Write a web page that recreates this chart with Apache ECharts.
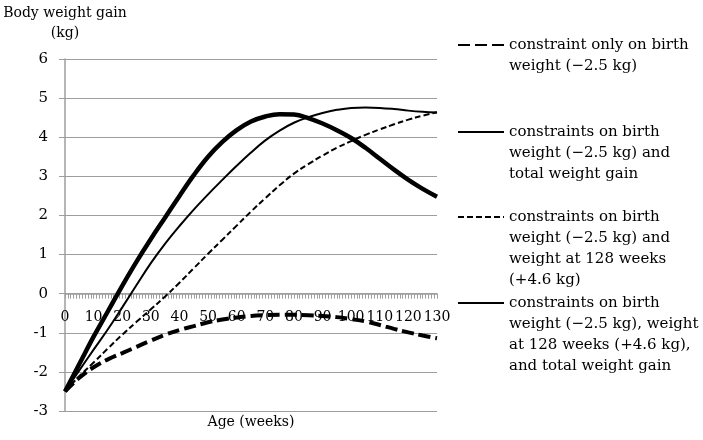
<!DOCTYPE html>
<html>
<head>
<meta charset="utf-8">
<script src="https://cdn.jsdelivr.net/npm/echarts@6/dist/echarts.min.js"></script>
<style>
html,body{margin:0;padding:0;background:#fff;}
#chart{width:703px;height:440px;}
</style>
</head>
<body>
<div id="chart"></div>
<script>
var weeks = [0,5,10,15,20,25,30,35,40,45,50,55,60,65,70,75,80,85,90,95,100,105,110,115,120,125,130];
var birthOnly = [-2.5,-2.15,-1.88,-1.68,-1.52,-1.36,-1.2,-1.05,-0.93,-0.83,-0.73,-0.66,-0.61,-0.57,-0.55,-0.54,-0.54,-0.55,-0.57,-0.6,-0.65,-0.71,-0.8,-0.9,-0.99,-1.07,-1.14];
var birthTotal = [-2.5,-1.8,-1.1,-0.45,0.2,0.82,1.4,1.95,2.5,3.03,3.5,3.88,4.18,4.4,4.53,4.59,4.58,4.49,4.35,4.18,3.98,3.73,3.45,3.17,2.91,2.68,2.48];
var birth128 = [-2.5,-2.11,-1.76,-1.4,-1.05,-0.72,-0.4,-0.07,0.28,0.65,1.02,1.38,1.74,2.1,2.44,2.77,3.07,3.31,3.53,3.73,3.9,4.06,4.2,4.33,4.45,4.55,4.64];
var birth128Total = [-2.5,-1.96,-1.43,-0.91,-0.35,0.22,0.78,1.28,1.73,2.15,2.54,2.91,3.27,3.61,3.92,4.17,4.37,4.51,4.62,4.7,4.75,4.76,4.75,4.72,4.68,4.65,4.63];
var seriesNames = [
  "constraint only on birth\nweight (\u22122.5 kg)",
  "constraints on birth\nweight (\u22122.5 kg) and\ntotal weight gain",
  "constraints on birth\nweight (\u22122.5 kg) and\nweight at 128 weeks\n(+4.6 kg)",
  "constraints on birth\nweight (\u22122.5 kg), weight\nat 128 weeks (+4.6 kg),\nand total weight gain"
];
var yTitle = "Body weight gain\n(kg)";
var xTitle = "Age (weeks)";

var FONT = "DejaVu Serif";
function pairs(vals){ return weeks.map(function(w,i){ return [w, vals[i]]; }); }
var styles = [
  {width:4, type:[12,5]},
  {width:4.5, type:'solid'},
  {width:2, type:[6,3]},
  {width:2, type:'solid'}
];
var allVals = [birthOnly, birthTotal, birth128, birth128Total];
var series = allVals.map(function(v,i){
  return {
    name: seriesNames[i], type:'line', data: pairs(v), smooth: 0.4,
    symbol:'none', lineStyle:{color:'#000', width:styles[i].width, type:styles[i].type},
    itemStyle:{color:'#000'}
  };
});
var LH = 21;
var iconY = [45, 132, 217, 303];
var legends = seriesNames.map(function(n,i){
  var k = n.split("\n").length;
  var pre = "";
  for (var j = 1; j < k; j++) pre += "\n";
  return {
    data:[{name:n}], orient:'vertical', left:457, top: iconY[i] - (2*k-1)*LH/2,
    padding:0, itemWidth:46, itemHeight:14, itemGap:0, selectedMode:false,
    itemStyle:{opacity:0},
    formatter:function(name){ return pre + name; },
    textStyle:{fontFamily:FONT, fontSize:15, lineHeight:LH, color:'#000'}
  };
});
var chart = echarts.init(document.getElementById('chart'));
chart.setOption({
  animation:false,
  backgroundColor:'#fff',
  grid:{left:65, right:266, top:59, bottom:29, containLabel:false, outerBoundsMode:'none'},
  legend: legends,
  xAxis:{
    type:'value', min:0, max:130, interval:10,
    name:xTitle, nameLocation:'middle', nameGap:4,
    nameTextStyle:{fontFamily:FONT, fontSize:14, color:'#000'},
    axisLine:{onZero:true, lineStyle:{color:'#9e9e9e', width:1.5}},
    axisTick:{show:true, length:5, lineStyle:{color:'#9e9e9e'}},
    minorTick:{show:true, splitNumber:10, length:5, lineStyle:{color:'#9e9e9e'}},
    axisLabel:{fontFamily:FONT, fontSize:14, color:'#000', margin:-101},
    splitLine:{show:false}
  },
  yAxis:{
    type:'value', min:-3, max:6, interval:1,
    name:yTitle, nameLocation:'end', nameGap:16,
    nameTextStyle:{fontFamily:FONT, fontSize:14, color:'#000', lineHeight:20, align:'center'},
    axisLine:{show:true, lineStyle:{color:'#9e9e9e', width:1.5}},
    axisTick:{show:true, length:6, lineStyle:{color:'#9e9e9e'}},
    axisLabel:{fontFamily:FONT, fontSize:15, color:'#000', margin:17},
    splitLine:{show:true, lineStyle:{color:'#9e9e9e', width:1.2}}
  },
  series: series
});
</script>
</body>
</html>
